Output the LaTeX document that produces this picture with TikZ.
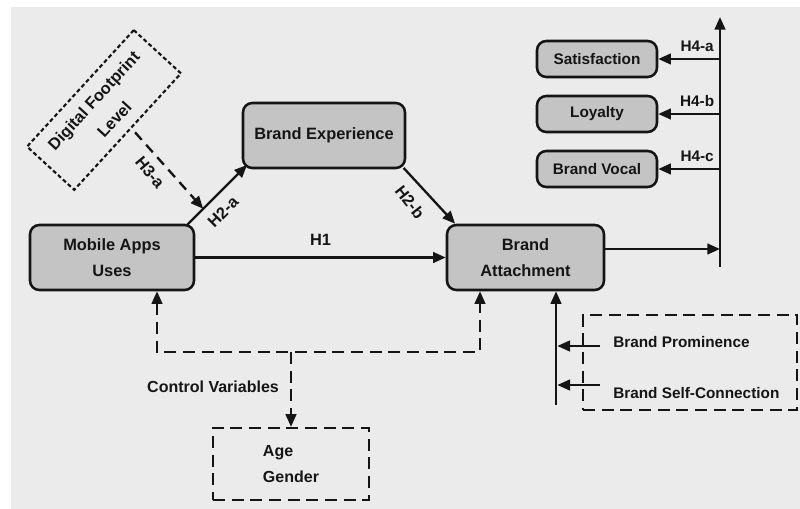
\documentclass[tikz,border=0pt]{standalone}
\usepackage{fontspec}
\setmainfont{Liberation Sans}
\usetikzlibrary{arrows.meta,calc}
\definecolor{bg}{HTML}{EBEBEB}
\definecolor{boxfill}{HTML}{C4C4C4}
\definecolor{ink}{HTML}{151515}

\begin{document}
\begin{tikzpicture}[x=0.75pt,y=-0.75pt,
  txt/.style={font=\fontsize{12.3}{19.5}\selectfont\bfseries, text=ink},
  smalltxt/.style={font=\fontsize{11.5}{14}\selectfont\bfseries, text=ink},
  box/.style={draw=ink, line width=1.9pt, rounded corners=7pt, fill=boxfill,
              align=center, inner sep=0pt},
  tip/.style={-{Triangle[length=9.5pt,width=8pt]}},
  arr/.style={draw=ink, line width=1.75pt, tip},
  dsh/.style={draw=ink, line width=1.75pt, dash pattern=on 9pt off 5pt},
  dotbox/.style={draw=ink, line width=1.6pt, dash pattern=on 3pt off 2pt},
  lbl/.style={txt, inner sep=1pt}
]
% canvas
\useasboundingbox (0,0) rectangle (800,509);
\fill[white] (0,0) rectangle (800,509);
\fill[bg] (11,7) rectangle (800,509);

% main constructs
\node[box, txt, minimum width=123pt, minimum height=48.75pt] (mau) at (112,257.5) {Mobile Apps\\Uses};
\node[box, txt, minimum width=121.5pt, minimum height=48.75pt] (be) at (324,135.5) {Brand Experience};
\node[box, txt, minimum width=117.75pt, minimum height=48.75pt] (ba) at (525.5,257.5) {Brand\\Attachment};

% outcomes
\node[box, smalltxt, minimum width=90pt, minimum height=27pt] (sat) at (597,59) {Satisfaction};
\node[box, smalltxt, minimum width=90pt, minimum height=27pt] (loy) at (597,114) {Loyalty};
\node[box, smalltxt, minimum width=90pt, minimum height=27pt] (voc) at (597,169) {Brand Vocal};

% moderator
\node[dotbox, txt, rotate=47.5, minimum width=118.5pt, minimum height=48pt, align=center,
      font=\fontsize{12.3}{21}\selectfont\bfseries] (dfl) at (104,110) {Digital Footprint\\Level};

% controls
\node[dsh, txt, minimum width=117pt, minimum height=54pt, align=left,
      font=\fontsize{12}{19.5}\selectfont\bfseries] (age) at (291,464) {Age\\Gender};
\node[txt, font=\fontsize{12}{14}\selectfont\bfseries] (cvl) at (213,387) {Control Variables};

% brand antecedents group
\node[dsh, minimum width=160.5pt, minimum height=71.25pt] (grp) at (690,362.5) {};
\node[smalltxt, anchor=west, inner sep=0pt] (bpr) at (613,342) {Brand Prominence};
\node[smalltxt, anchor=west, inner sep=0pt] (bsc) at (613,393) {Brand Self-Connection};

% helper points
\coordinate (busT) at (720,17);
\coordinate (busB) at (720,267);
\coordinate (baOut) at (604,249);
\coordinate (h2aS) at (187,225);
\coordinate (h2aE) at (247,165);
\coordinate (h3aE) at ($(h2aS)!0.27!(h2aE)$);
\coordinate (cl) at (157,352);
\coordinate (cr) at (480,352);
\coordinate (cv) at (291,352);
\coordinate (trB) at (556,405);
\coordinate (p1) at (600,346);
\coordinate (p2) at (600,385);

% H1, H2
\draw[arr] (mau.east) -- (ba.west) node[midway, lbl, above=7pt] {H1};
\draw[arr] (h2aS) -- (h2aE);
\draw[arr] ([xshift=-2pt,yshift=1pt]be.south east) -- ([xshift=7pt]ba.north west);
\node[lbl, rotate=45] (h2al) at (223,212) {H2-a};
\node[lbl, rotate=-52] (h2bl) at (410,202) {H2-b};

% H3
\draw[arr, dash pattern=on 7.5pt off 5pt] ([xshift=5pt]dfl.south) -- (h3aE);
\node[lbl, rotate=-50] (h3al) at (150,172) {H3-a};

% H4 bus
\draw[arr] (baOut) -- (baOut -| busB);
\draw[arr] (busB) -- (busT);
\draw[arr] (sat.east -| busB) -- (sat.east) node[midway, smalltxt, above=1pt, xshift=6pt] {H4-a};
\draw[arr] (loy.east -| busB) -- (loy.east) node[midway, smalltxt, above=1pt, xshift=6pt] {H4-b};
\draw[arr] (voc.east -| busB) -- (voc.east) node[midway, smalltxt, above=1pt, xshift=6pt] {H4-c};

% control variables
\draw[dsh, {Triangle[length=9.5pt,width=8pt]}-{Triangle[length=9.5pt,width=8pt]}]
  (mau.south -| cl) -- (cl) -- (cr) -- (ba.south -| cr);
\draw[dsh, tip] (cv) -- (age.north);

% antecedents into attachment
\draw[arr] (trB) -- (ba.south -| trB);
\draw[arr] (p1) -- ([xshift=1pt]p1 -| trB);
\draw[arr] (p2) -- ([xshift=1pt]p2 -| trB);
\end{tikzpicture}
\end{document}
